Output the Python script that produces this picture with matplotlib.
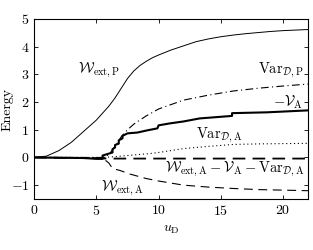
import matplotlib
matplotlib.use("Agg")
import matplotlib.pyplot as plt

plt.rcParams["font.family"] = "serif"
plt.rcParams["font.serif"] = ["cmr10", "DejaVu Serif"]
plt.rcParams["mathtext.fontset"] = "cm"
plt.rcParams["axes.formatter.use_mathtext"] = True
plt.rcParams["font.size"] = 10

# W_ext,P (thin solid)
wp_x = [0, 1, 2, 3, 4, 5, 6, 6.5, 7, 7.5, 8, 8.5, 9, 9.5, 10, 11, 12, 13, 14, 15, 16, 17, 18,
        19, 20, 21, 22]
wp_y = [0, 0.05, 0.25, 0.55, 0.95, 1.35, 1.85, 2.15, 2.5, 2.85, 3.12, 3.32, 3.47, 3.6, 3.7,
        3.88, 4.03, 4.18, 4.28, 4.36, 4.42, 4.47, 4.51, 4.55, 4.58, 4.6, 4.62]

# Var_D,P (dash-dot)
vp_x = [0, 5.5, 6, 6.5, 7, 7.5, 8, 9, 10, 12, 14, 16, 18, 20, 22]
vp_y = [0, 0, 0.1, 0.4, 0.75, 1.0, 1.2, 1.5, 1.75, 2.07, 2.25, 2.4, 2.5, 2.58, 2.65]

# -V_A (thick solid, stepwise)
va_x = [0, 4, 5, 5.5, 5.5, 6.3, 6.3, 6.5, 6.5, 6.8, 6.8, 7.1, 7.1, 7.5, 8.3, 9.1, 9.9, 10.0,
        10.9, 12, 13.3, 15.9, 15.9, 18.7, 22]
va_y = [0, -0.02, -0.05, -0.05, 0.07, 0.18, 0.3, 0.36, 0.45, 0.5, 0.62, 0.69, 0.78, 0.87,
        0.9, 0.98, 1.05, 1.16, 1.23, 1.3, 1.41, 1.5, 1.6, 1.63, 1.7]

# Var_D,A (dotted)
vda_x = [0, 5.5, 6.5, 8, 9.3, 10, 12, 14, 16, 18, 20, 22]
vda_y = [0, 0, 0.03, 0.09, 0.14, 0.18, 0.32, 0.4, 0.47, 0.49, 0.5, 0.51]

# W_ext,A - V_A - Var_D,A (dashed, thick)
res_x = [0, 5, 6, 8, 10, 15, 22]
res_y = [0, -0.03, -0.04, -0.04, -0.04, -0.04, -0.04]

# W_ext,A (dashed, thin)
wa_x = [0, 5.5, 6.0, 6.3, 6.9, 7.7, 9, 10, 12, 14, 16, 18, 20, 22]
wa_y = [0, -0.02, -0.2, -0.4, -0.47, -0.6, -0.76, -0.85, -1.0, -1.07, -1.12, -1.16, -1.18, -1.2]

fig = plt.figure(figsize=(3.13, 2.5), dpi=100)
ax = fig.add_axes([0.109, 0.204, 0.875, 0.72])

ax.plot(wp_x, wp_y, color="black", lw=0.7)
ax.plot(vp_x, vp_y, color="black", lw=0.8, linestyle=(0, (7, 3, 1, 3)))
ax.plot(va_x, va_y, color="black", lw=1.5)
ax.plot(vda_x, vda_y, color="black", lw=0.8, linestyle=(0, (1, 2.5)))
ax.plot(res_x, res_y, color="black", lw=1.3, linestyle=(0, (7, 4)))
ax.plot(wa_x, wa_y, color="black", lw=0.8, linestyle=(0, (8, 5)))

fs = 10.5
ax.text(6.9, 3.15, r"$\mathcal{W}_{\rm ext,P}$", ha="right", va="center", fontsize=fs)
ax.text(21.6, 3.15, r"${\rm Var}_{\mathcal{D},\rm P}$", ha="right", va="center", fontsize=fs)
ax.text(21.6, 2.0, r"$-\mathcal{V}_{\rm A}$", ha="right", va="center", fontsize=fs)
ax.text(14.9, 0.8, r"${\rm Var}_{\mathcal{D},\rm A}$", ha="center", va="center", fontsize=fs)
ax.text(21.7, -0.45, r"$\mathcal{W}_{\rm ext,A}-\mathcal{V}_{\rm A}-{\rm Var}_{\mathcal{D},\rm A}$",
        ha="right", va="center", fontsize=fs)
ax.text(7.1, -1.12, r"$\mathcal{W}_{\rm ext,A}$", ha="center", va="center", fontsize=fs)

ax.set_xlim(0, 22)
ax.set_ylim(-1.5, 5)
ax.set_xticks([0, 5, 10, 15, 20])
ax.set_yticks([-1, 0, 1, 2, 3, 4, 5])
ax.tick_params(direction="in", top=True, right=True, length=3, width=0.6)
for s in ax.spines.values():
    s.set_linewidth(0.8)
ax.set_xlabel(r"$u_{\rm D}$")
ax.set_ylabel("Energy")
ax.yaxis.set_label_coords(-0.075, 0.5)

fig.savefig("out.png", dpi=100)
